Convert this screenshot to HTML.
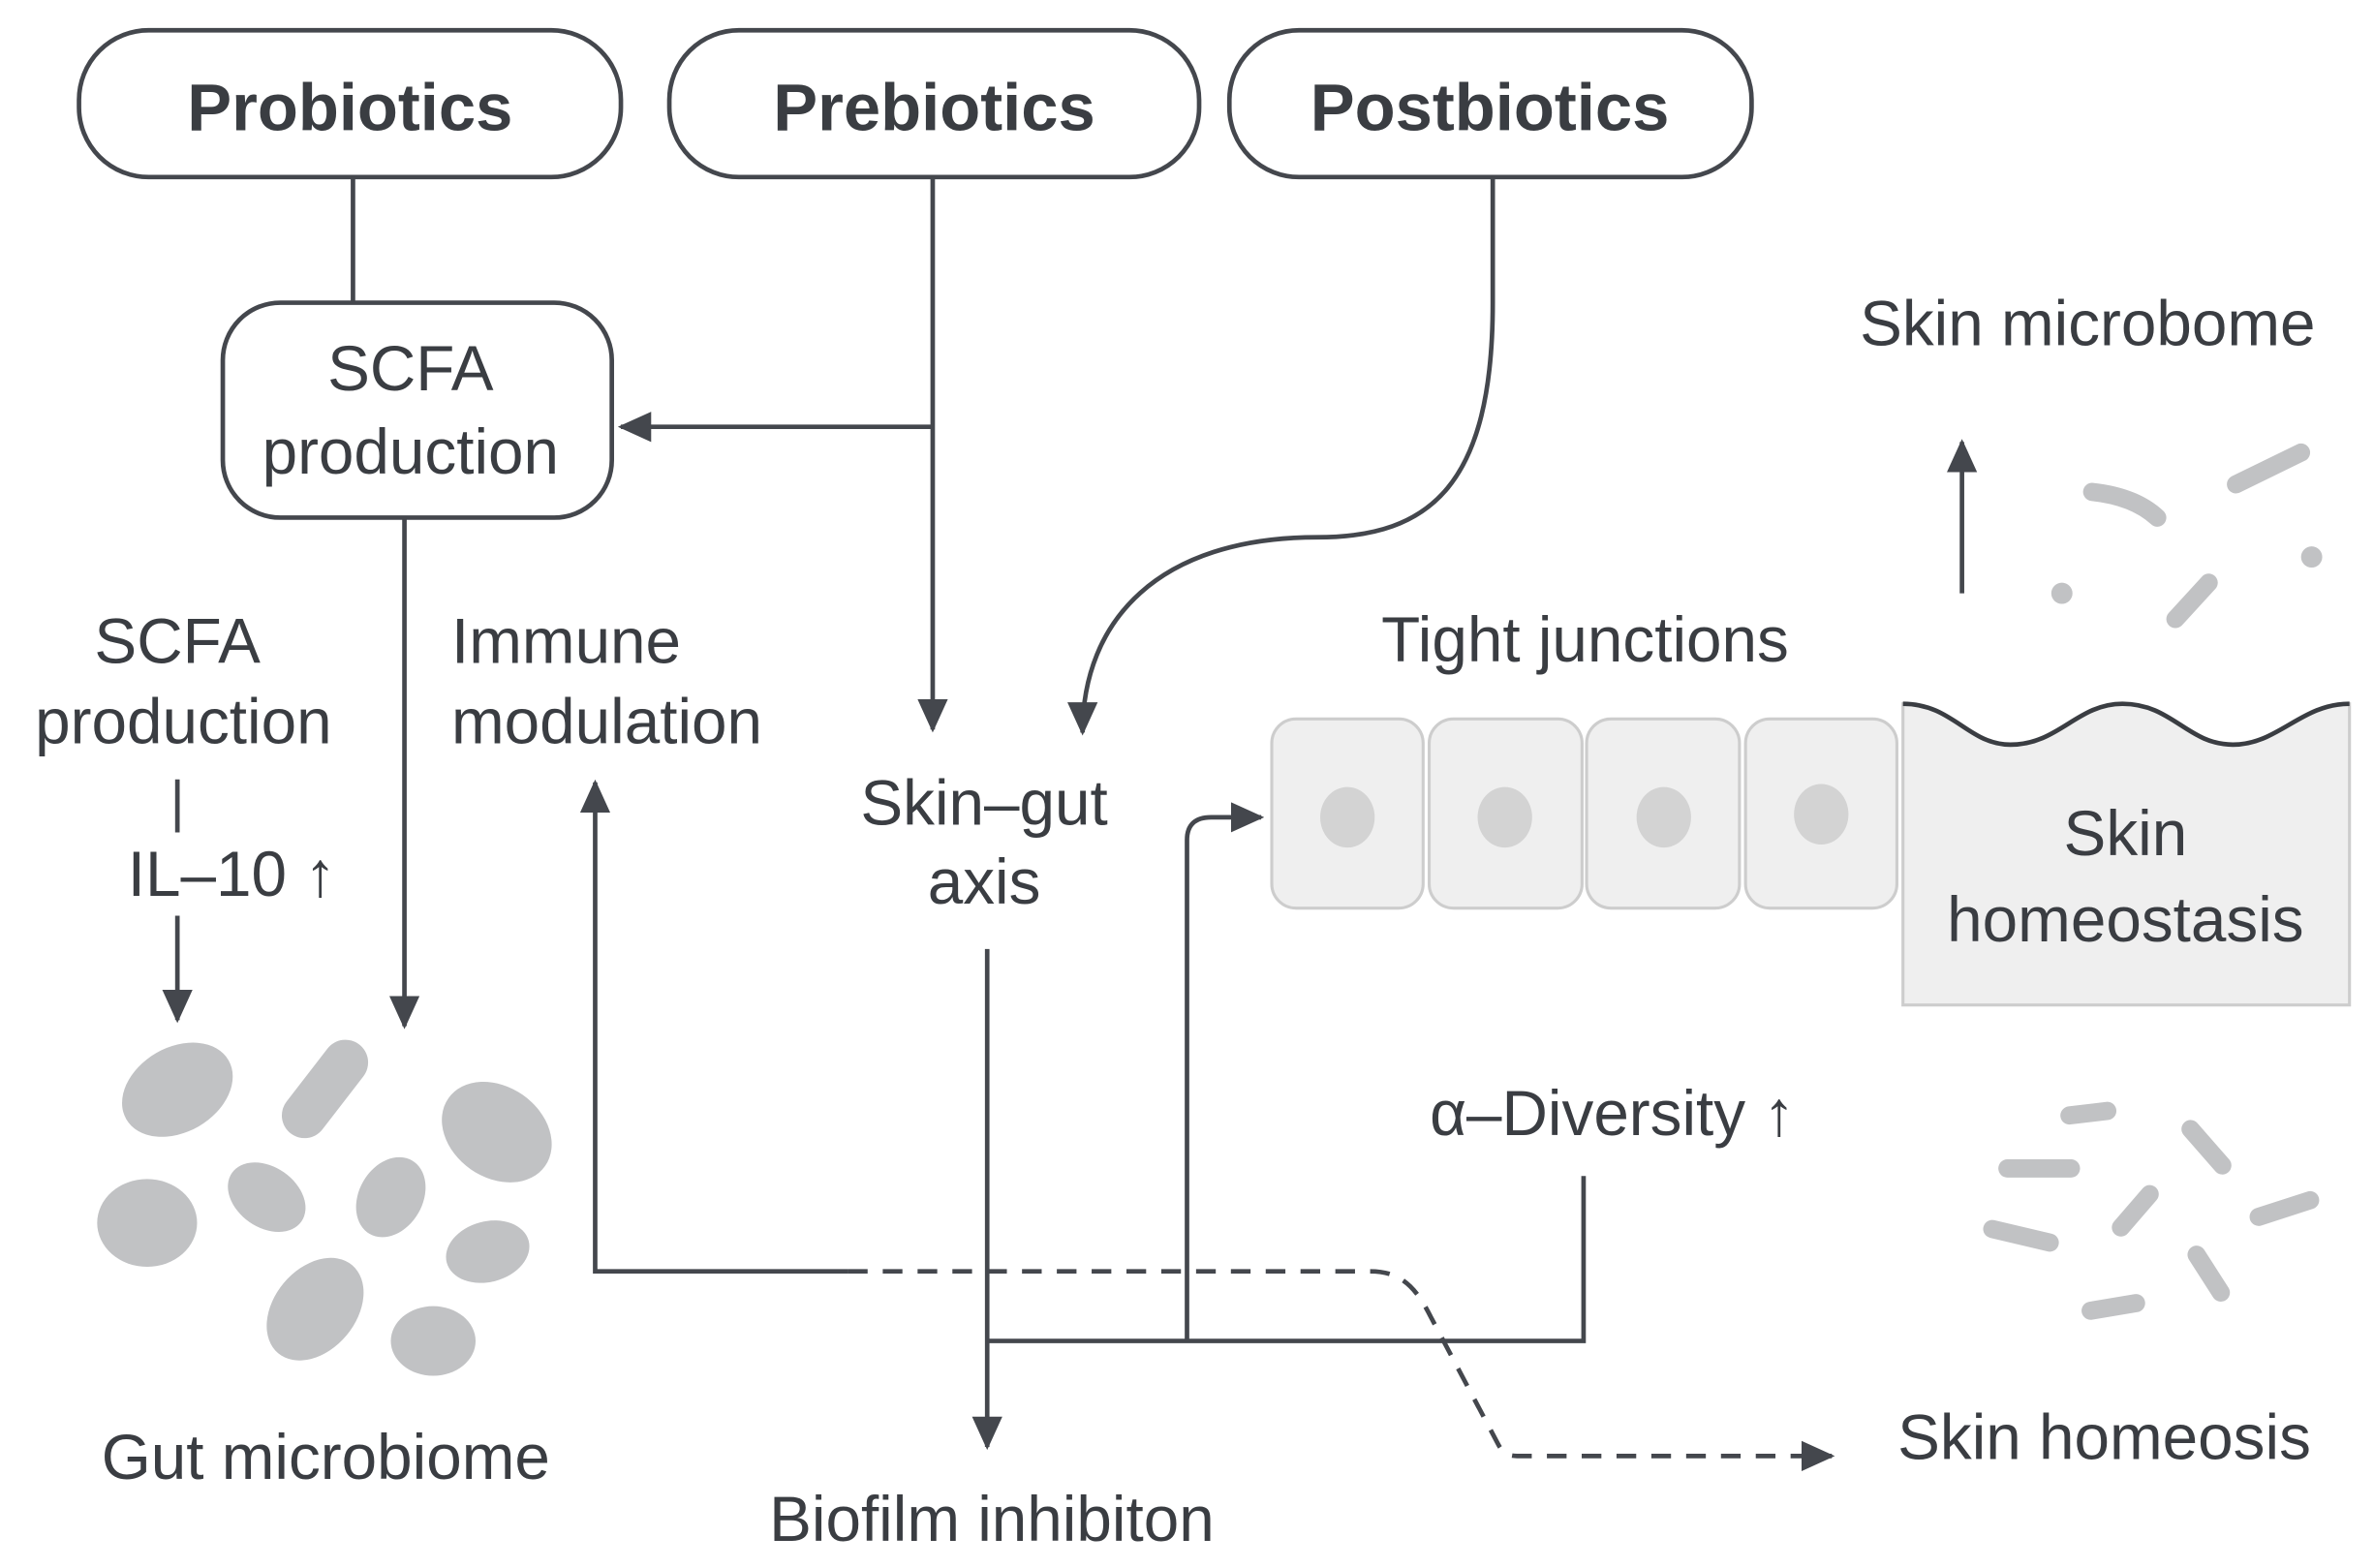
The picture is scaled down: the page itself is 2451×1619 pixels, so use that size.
<!DOCTYPE html>
<html><head><meta charset="utf-8">
<style>
html,body{margin:0;padding:0;background:#fff;}
svg{display:block;}
text{font-family:"Liberation Sans Narrow","Liberation Sans",sans-serif;fill:#3a3d42;}
</style></head>
<body>
<svg width="2451" height="1619" viewBox="0 0 1568 1036" xmlns="http://www.w3.org/2000/svg">
<defs>
<marker id="ahb" markerWidth="22" markerHeight="20" refX="20" refY="10" orient="auto" markerUnits="userSpaceOnUse" viewBox="0 0 22 20">
<path d="M0,0 L22,10 L0,20 Z" fill="#44474d"/>
</marker>
</defs>
<g fill="#efefef" stroke="#cdcdcd" stroke-width="2">
<rect x="840" y="475" width="100" height="125" rx="16"/>
<rect x="944" y="475" width="101" height="125" rx="16"/>
<rect x="1048" y="475" width="101" height="125" rx="16"/>
<rect x="1153" y="475" width="100" height="125" rx="16"/>
<path d="M1257 465 C1290 465 1300 492 1328 492 C1360 492 1372 465 1402 465 C1435 465 1445 492 1475 492 C1505 492 1520 465 1552 465 L1552 664 L1257 664 Z"/>
</g>
<path d="M1257 465 C1290 465 1300 492 1328 492 C1360 492 1372 465 1402 465 C1435 465 1445 492 1475 492 C1505 492 1520 465 1552 465" fill="none" stroke="#3a3d42" stroke-width="3"/>
<g fill="#d3d3d3">
<ellipse cx="890" cy="540" rx="18" ry="20"/>
<ellipse cx="994" cy="540" rx="18" ry="20"/>
<ellipse cx="1099" cy="540" rx="18" ry="20"/>
<ellipse cx="1203" cy="538" rx="18" ry="20"/>
</g>
<g fill="none" stroke="#44474d" stroke-width="3">
<rect x="52" y="20" width="358" height="97" rx="46"/>
<rect x="442" y="20" width="350" height="97" rx="46"/>
<rect x="812" y="20" width="345" height="97" rx="46"/>
<rect x="147" y="200" width="257" height="142" rx="38"/>
<line x1="233" y1="117" x2="233" y2="200"/>
<line x1="616" y1="117" x2="616" y2="482" marker-end="url(#ahb)"/>
<line x1="616" y1="282" x2="410" y2="282" marker-end="url(#ahb)"/>
<line x1="267" y1="342" x2="267" y2="678" marker-end="url(#ahb)"/>
<line x1="117" y1="515" x2="117" y2="550"/>
<line x1="117" y1="605" x2="117" y2="674" marker-end="url(#ahb)"/>
<path d="M986 117 L986 200 C986 320 945 355 870 355 C765 355 715 410 715 484" marker-end="url(#ahb)"/>
<path d="M560 840 L393 840 L393 517" marker-end="url(#ahb)"/>
<path d="M560 840 L905 840 C925 840 935 850 945 870 L990 955 C993 960 996 962 1002 962 L1210 962" stroke-dasharray="13,10" marker-end="url(#ahb)"/>
<line x1="652" y1="627" x2="652" y2="956" marker-end="url(#ahb)"/>
<path d="M652 886 L1046 886 L1046 777"/>
<path d="M784 886 L784 555 Q784 540 800 540 L833 540" marker-end="url(#ahb)"/>
<line x1="1296" y1="392" x2="1296" y2="292" marker-end="url(#ahb)"/>
</g>
<g font-size="44" font-weight="bold" text-anchor="middle">
<text x="231" y="86">Probiotics</text>
<text x="617" y="86">Prebiotics</text>
<text x="984" y="86">Postbiotics</text>
</g>
<g font-size="42" text-anchor="middle">
<text x="271" y="258">SCFA</text>
<text x="271" y="313">production</text>
<text x="117" y="438">SCFA</text>
<text x="121" y="491">production</text>
<text x="153" y="592">IL–10 ↑</text>
<text x="650" y="545">Skin–gut</text>
<text x="650" y="597">axis</text>
<text x="1047" y="437">Tight junctions</text>
<text x="1379" y="228">Skin microbome</text>
<text x="1404" y="565">Skin</text>
<text x="1404" y="622">homeostasis</text>
<text x="1065" y="750">α–Diversity ↑</text>
<text x="1390" y="964">Skin homeosis</text>
<text x="215" y="977">Gut microbiome</text>
<text x="655" y="1018">Biofilm inhibiton</text>
</g>
<g font-size="42" text-anchor="start">
<text x="298" y="438">Immune</text>
<text x="298" y="491">modulation</text>
</g>
<g fill="#c1c2c4">
<ellipse cx="117" cy="720" rx="39" ry="28" transform="rotate(-30 117 720)"/>
<ellipse cx="328" cy="748" rx="39" ry="30" transform="rotate(35 328 748)"/>
<ellipse cx="97" cy="808" rx="33" ry="29"/>
<ellipse cx="176" cy="791" rx="28" ry="20" transform="rotate(35 176 791)"/>
<ellipse cx="258" cy="791" rx="28" ry="21" transform="rotate(-60 258 791)"/>
<ellipse cx="322" cy="827" rx="28" ry="20" transform="rotate(-15 322 827)"/>
<ellipse cx="208" cy="865" rx="38" ry="27" transform="rotate(-50 208 865)"/>
<ellipse cx="286" cy="886" rx="28" ry="23"/>
<circle cx="1362" cy="392" r="7"/>
<circle cx="1527" cy="368" r="7"/>
</g>
<g stroke="#c1c2c4" stroke-linecap="round" fill="none">
<line x1="201" y1="737" x2="228" y2="702" stroke-width="30"/>
<g stroke-width="12">
<path d="M1382 325 Q1410 328 1425 342"/>
<line x1="1477" y1="320" x2="1520" y2="299"/>
<line x1="1437" y1="409" x2="1459" y2="385"/>
<line x1="1367" y1="737" x2="1392" y2="734"/>
<line x1="1447" y1="746" x2="1468" y2="770"/>
<line x1="1326" y1="772" x2="1368" y2="772"/>
<line x1="1401" y1="811" x2="1420" y2="789"/>
<line x1="1492" y1="804" x2="1526" y2="793"/>
<line x1="1316" y1="812" x2="1354" y2="821"/>
<line x1="1451" y1="829" x2="1467" y2="854"/>
<line x1="1381" y1="866" x2="1411" y2="861"/>
</g>
</g>
</svg>
</body></html>
